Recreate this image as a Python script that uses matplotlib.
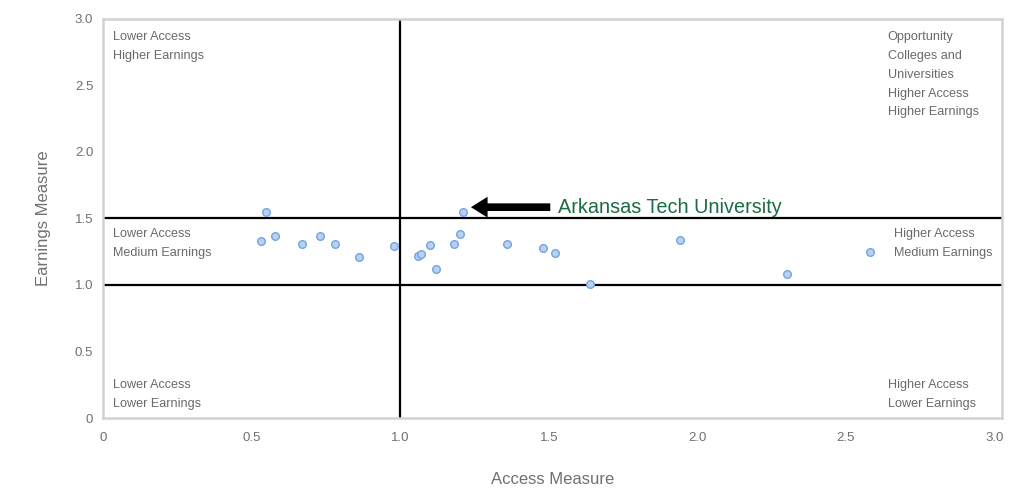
import matplotlib
matplotlib.use("Agg")
import matplotlib.pyplot as plt
from matplotlib.ticker import FuncFormatter, FixedLocator

plt.rcParams['font.family'] = ['Liberation Sans', 'DejaVu Sans']

access = [0.53, 0.55, 0.58, 0.67, 0.73, 0.78, 0.86, 0.98, 1.06, 1.07, 1.10, 1.12,
          1.18, 1.20, 1.21, 1.36, 1.48, 1.52, 1.64, 1.94, 2.30, 2.58]
earnings = [1.33, 1.55, 1.37, 1.31, 1.37, 1.31, 1.21, 1.29, 1.22, 1.23, 1.30, 1.12,
            1.31, 1.38, 1.55, 1.31, 1.28, 1.24, 1.01, 1.34, 1.08, 1.25]
ticks = [0, 0.5, 1.0, 1.5, 2.0, 2.5, 3.0]
highlight_name = "Arkansas Tech University"

fig = plt.figure(figsize=(10.24, 4.99), dpi=100)
ax = fig.add_axes([0.1006, 0.1623, 0.8779, 0.7997])
ax.set_xlim(0, 3.025)
ax.set_ylim(0, 3)

fmt = FuncFormatter(lambda v, p: "0" if v == 0 else f"{v:.1f}")
ax.xaxis.set_major_locator(FixedLocator(ticks))
ax.yaxis.set_major_locator(FixedLocator(ticks))
ax.xaxis.set_major_formatter(fmt)
ax.yaxis.set_major_formatter(fmt)
ax.tick_params(length=0, labelsize=9.5, labelcolor='#707070')
ax.tick_params(axis='x', pad=10)
ax.tick_params(axis='y', pad=7)
for s in ax.spines.values():
    s.set_color('#d2d2d2')
    s.set_linewidth(1.8)

ax.axvline(1.0, color='black', lw=1.6, zorder=2)
ax.axhline(1.0, color='black', lw=1.6, zorder=2)
ax.axhline(1.5, color='black', lw=1.6, zorder=2)

ax.scatter(access, earnings, s=30, facecolor='#b8d1f3', edgecolor='#74a3de',
           linewidth=1.0, zorder=3)

ax.annotate("", xy=(1.238, 1.585), xytext=(1.505, 1.585),
            arrowprops=dict(width=5.5, headwidth=15, headlength=12,
                            facecolor='black', edgecolor='black', lw=0,
                            shrink=0), zorder=4)
ax.text(1.53, 1.585, highlight_name, color='#1d6b47', fontsize=14.3,
        va='center', ha='left')

qc = '#6a6a6a'
qfs = 9.1
ls = 1.75
ax.text(0.034, 2.91, "Lower Access\nHigher Earnings", color=qc, fontsize=qfs,
        va='top', ha='left', linespacing=ls)
ax.text(0.034, 1.43, "Lower Access\nMedium Earnings", color=qc, fontsize=qfs,
        va='top', ha='left', linespacing=ls)
ax.text(0.034, 0.292, "Lower Access\nLower Earnings", color=qc, fontsize=qfs,
        va='top', ha='left', linespacing=ls)
ax.text(2.64, 2.907, "Opportunity\nColleges and\nUniversities\nHigher Access\nHigher Earnings",
        color=qc, fontsize=qfs, va='top', ha='left', linespacing=ls)
ax.text(2.66, 1.43, "Higher Access\nMedium Earnings", color=qc, fontsize=qfs,
        va='top', ha='left', linespacing=ls)
ax.text(2.64, 0.292, "Higher Access\nLower Earnings", color=qc, fontsize=qfs,
        va='top', ha='left', linespacing=ls)

ax.set_xlabel("Access Measure", fontsize=12, color='#707070', labelpad=20)
ax.set_ylabel("Earnings Measure", fontsize=12, color='#707070', labelpad=17)

fig.savefig("out.png", dpi=100, facecolor='white')
